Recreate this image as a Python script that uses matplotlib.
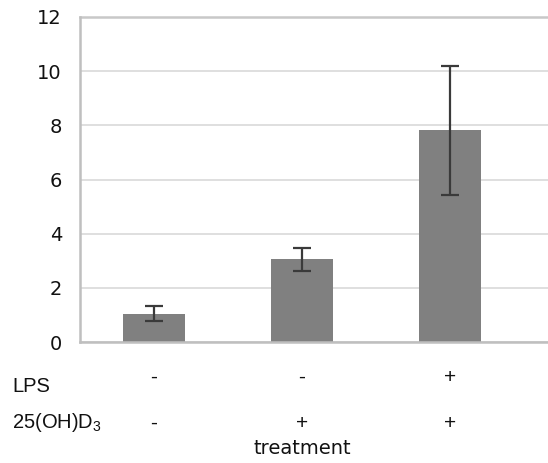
import matplotlib
matplotlib.use("Agg")
import matplotlib.pyplot as plt
import matplotlib.transforms as mtransforms

# values
groups = ["ctrl", "25(OH)D3", "LPS + 25(OH)D3"]
means = [1.05, 3.05, 7.82]
errors = [0.29, 0.43, 2.38]
lps_signs = ["-", "-", "+"]
vitd_signs = ["-", "+", "+"]
yticks = [0, 2, 4, 6, 8, 10, 12]

plt.rcParams["mathtext.fontset"] = "custom"
plt.rcParams["mathtext.rm"] = "Liberation Sans"
plt.rcParams["mathtext.it"] = "Liberation Sans:italic"

fig = plt.figure(figsize=(5.48, 4.63), dpi=100)
# plot area runs past the right edge of the picture (cropped in the original)
ax = fig.add_axes([80 / 548, 121 / 463, 600 / 548, 325 / 463])

x = list(range(len(groups)))
ax.bar(x, means, width=0.42, color="#808080", zorder=2)
ax.errorbar(x, means, yerr=errors, fmt="none", ecolor="#3a3a3a",
            elinewidth=1.6, capsize=6.8, capthick=1.6, zorder=3)

ax.set_xlim(-0.5, -0.5 + 600 / 148)
ax.set_ylim(0, 12)
ax.set_yticks(yticks)
ax.set_xticks([])
ax.yaxis.grid(True, color="#d9d9d9", linewidth=1.2, zorder=0)
ax.set_axisbelow(True)
ax.tick_params(axis="y", length=0, pad=13, labelsize=14)
for lab in ax.get_yticklabels():
    lab.set_fontfamily("DejaVu Sans")
    lab.set_color("#111111")

for side in ["top", "right"]:
    ax.spines[side].set_visible(False)
ax.spines["left"].set_color("#bfbfbf")
ax.spines["left"].set_linewidth(1.8)
ax.spines["bottom"].set_color("#bfbfbf")
ax.spines["bottom"].set_linewidth(1.8)
ax.axhline(12, color="#c8c8c8", linewidth=1.8, zorder=1, clip_on=False)

trans = mtransforms.blended_transform_factory(ax.transData, ax.transAxes)
for xi, s1, s2 in zip(x, lps_signs, vitd_signs):
    ax.text(xi, -0.11, s1, transform=trans, ha="center", va="center",
            fontsize=15, family="Liberation Sans", color="#111111")
    ax.text(xi, -0.25, s2, transform=trans, ha="center", va="center",
            fontsize=15, family="Liberation Sans", color="#111111")

fig.text(12 / 548, 1 - 387 / 463, "LPS", ha="left", va="center",
         fontsize=14.5, family="Liberation Sans", color="#111111")
fig.text(12 / 548, 1 - 423 / 463, r"25(OH)D$_{3}$", ha="left", va="center",
         fontsize=14.5, family="Liberation Sans", color="#111111")
ax.text(1, -0.328, "treatment", transform=trans, ha="center", va="center",
        fontsize=14, family="DejaVu Sans", color="#111111")

fig.savefig("out.png", dpi=100)
